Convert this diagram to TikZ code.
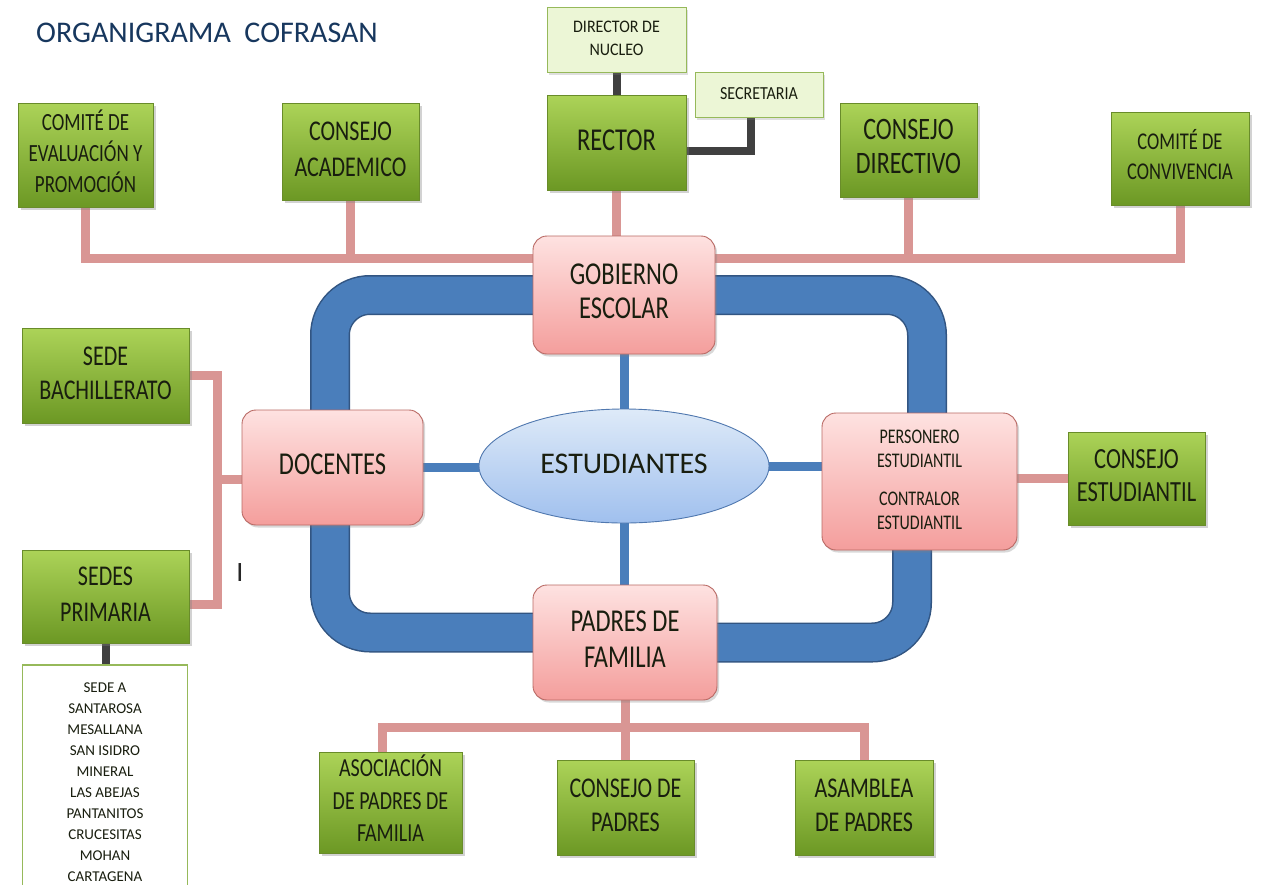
\documentclass[tikz,border=0pt]{standalone}
\usepackage{fontspec}
\setmainfont{Carlito}
\usepackage{graphicx}
\usetikzlibrary{shapes.geometric,shadows}
\definecolor{gtop}{RGB}{172,211,88}
\definecolor{gbot}{RGB}{108,152,36}
\definecolor{gdraw}{RGB}{105,140,42}
\definecolor{ptop}{RGB}{254,226,225}
\definecolor{pbot}{RGB}{244,158,156}
\definecolor{pdraw}{RGB}{185,105,100}
\definecolor{lfill}{RGB}{236,246,214}
\definecolor{ldraw}{RGB}{150,185,90}
\definecolor{bandc}{RGB}{74,126,187}
\definecolor{banddk}{RGB}{50,85,130}
\definecolor{pinkc}{RGB}{217,150,148}
\definecolor{darkc}{RGB}{64,64,64}
\definecolor{titlec}{RGB}{23,55,94}
\definecolor{etop}{RGB}{222,234,248}
\definecolor{ebot}{RGB}{160,192,238}
\definecolor{edraw}{RGB}{80,120,175}
\definecolor{txtc}{RGB}{25,30,15}
\newcommand{\bt}[5]{\raisebox{#1pt}{\scalebox{1}[#2]{\fontsize{#3pt}{#4pt}\selectfont\begin{tabular}{@{}c@{}}#5\end{tabular}}}}
\pgfdeclarelayer{bg}
\pgfsetlayers{bg,main}
\begin{document}
\begin{tikzpicture}[x=1pt,y=-1pt,
  gbox/.style={rectangle,draw=gdraw,line width=0.8pt,top color=gtop,bottom color=gbot,inner sep=0pt,text=txtc,
    drop shadow={shadow xshift=2.5pt,shadow yshift=-3pt,opacity=0.35}},
  pbox/.style={rectangle,rounded corners=14pt,draw=pdraw,line width=0.9pt,top color=ptop,bottom color=pbot,inner sep=0pt,text=txtc,
    drop shadow={shadow xshift=2pt,shadow yshift=-2.5pt,opacity=0.3}},
  lbox/.style={rectangle,draw=ldraw,line width=0.9pt,fill=lfill,inner sep=0pt,text=txtc,
    drop shadow={shadow xshift=2pt,shadow yshift=-2.5pt,opacity=0.25}},
  ebox/.style={ellipse,draw=edraw,line width=0.9pt,top color=etop,bottom color=ebot,inner sep=0pt,text=txtc},
  listbox/.style={rectangle,draw=ldraw,line width=1.5pt,fill=white,inner sep=0pt,text=txtc},
  pinkl/.style={draw=pinkc,line width=9pt},
  darkl/.style={draw=darkc,line width=8pt},
  bluel/.style={draw=bandc,line width=9pt},
  bandl/.style={draw=bandc,line width=37pt,rounded corners=40pt,preaction={draw=banddk,line width=40pt}}
]
\useasboundingbox (0,0) rectangle (1263,884);
\begin{pgfonlayer}{bg}
\fill[white] (0,0) rectangle (1263,884);
\end{pgfonlayer}

\node[text=titlec,inner sep=0pt] (title) at (207,33) {\fontsize{30pt}{36pt}\selectfont ORGANIGRAMA\ \ COFRASAN};

\node[lbox,minimum width=139pt,minimum height=65pt] (dir) at (616.5,39.5) {\bt{2}{1.1}{16}{21}{DIRECTOR DE\\NUCLEO}};
\node[lbox,minimum width=128pt,minimum height=45pt] (sec) at (759,94.5) {\bt{5}{1.15}{16}{20}{SECRETARIA}};

\node[gbox,minimum width=135pt,minimum height=104pt] (cea) at (85.5,155) {\bt{-2}{1.3}{19}{24}{COMITÉ DE\\EVALUACIÓN Y\\PROMOCIÓN}};
\node[gbox,minimum width=137pt,minimum height=97pt] (ca) at (350.5,151.5) {\bt{3}{1.3}{22}{27}{CONSEJO\\ACADEMICO}};
\node[gbox,minimum width=139pt,minimum height=95pt] (rector) at (616.5,142.5) {\bt{9}{1.3}{24.5}{29}{RECTOR}};
\node[gbox,minimum width=137pt,minimum height=94pt] (cd) at (908.5,150) {\bt{5}{1.3}{24}{26}{CONSEJO\\DIRECTIVO}};
\node[gbox,minimum width=138pt,minimum height=93pt] (cc) at (1180,158.5) {\bt{8}{1.3}{18.5}{23}{COMITÉ DE\\CONVIVENCIA}};

\node[gbox,minimum width=167pt,minimum height=95pt] (sb) at (105.5,375.5) {\bt{6}{1.3}{22}{26}{SEDE\\BACHILLERATO}};
\node[gbox,minimum width=167pt,minimum height=93pt] (sp) at (105.5,596.5) {\bt{6}{1.3}{22}{27}{SEDES\\PRIMARIA}};
\node[listbox,minimum width=165pt,minimum height=235pt] (lista) at (105,782.5) {\bt{0}{1}{15}{21}{SEDE A\\SANTAROSA\\MESALLANA\\SAN ISIDRO\\MINERAL\\LAS ABEJAS\\PANTANITOS\\CRUCESITAS\\MOHAN\\CARTAGENA}};

\node[pbox,minimum width=182pt,minimum height=118pt] (gob) at (624,295) {\bt{10}{1.3}{24.5}{26}{GOBIERNO\\ESCOLAR}};
\node[pbox,minimum width=181pt,minimum height=115pt] (doc) at (332.5,467.5) {\bt{12}{1.3}{24.5}{29}{DOCENTES}};
\node[ebox,minimum width=290pt,minimum height=114pt] (est) at (624,466) {\bt{8}{1}{30}{36}{ESTUDIANTES}};
\node[pbox,minimum width=195pt,minimum height=137pt] (per) at (919.5,481.5) {\bt{2}{1.3}{16}{18.5}{PERSONERO\\ESTUDIANTIL\\[11pt]CONTRALOR\\ESTUDIANTIL}};
\node[gbox,minimum width=137pt,minimum height=93pt] (cest) at (1136.5,478.5) {\bt{7}{1.3}{22.5}{25}{CONSEJO\\ESTUDIANTIL}};
\node[pbox,minimum width=184pt,minimum height=115pt] (pad) at (625,642.5) {\bt{8}{1.3}{24.5}{27}{PADRES DE\\FAMILIA}};

\node[gbox,minimum width=143pt,minimum height=101pt] (aso) at (390.5,802.5) {\bt{-2}{1.3}{20}{25}{ASOCIACIÓN\\DE PADRES DE\\FAMILIA}};
\node[gbox,minimum width=137pt,minimum height=95pt] (cp) at (625.5,807.5) {\bt{7}{1.3}{22}{26}{CONSEJO DE\\PADRES}};
\node[gbox,minimum width=138pt,minimum height=95pt] (asa) at (864,807.5) {\bt{7}{1.3}{22}{26}{ASAMBLEA\\DE PADRES}};

\node[text=black!85,inner sep=0pt] (ibar) at (240,573) {\fontsize{28pt}{30pt}\selectfont I};

\begin{pgfonlayer}{bg}
% blue loop
\coordinate (bl) at (330,0);
\coordinate (br) at (927,0);
\coordinate (br2) at (912,0);
\coordinate (padl) at ([yshift=10pt]pad.center);
\draw[bandl] (doc.center -| bl) |- (gob.center);
\draw[bandl] (gob.center) -| (per.center -| br);
\draw[bandl] (doc.center -| bl) |- (padl);
\draw[bandl] (pad.center) -| (per.center -| br2);
% thin blue
\draw[bluel] (gob.south) -- (gob.south |- est.north);
\draw[bluel] (est.south) -- (est.south |- pad.north);
\draw[bluel] (doc.east) -- (doc.east -| est.west);
\draw[bluel] (est.east) -- (est.east -| per.west);
% pink top
\coordinate (hy) at (0,258);
\draw[pinkl] (cea.south) -- (cea.south |- hy) -- (cc.south |- hy) -- (cc.south);
\draw[pinkl] (ca.south) -- (ca.south |- hy);
\draw[pinkl] (cd.south) -- (cd.south |- hy);
\draw[pinkl] (rector.south) -- (rector.south |- gob.north);
% pink left
\coordinate (lx) at (217,0);
\coordinate (spj) at ([yshift=-8pt]sp.east);
\coordinate (dj) at ([yshift=-12pt]doc.west);
\draw[pinkl] (sb.east) -| (spj -| lx) -- (spj);
\draw[pinkl] (dj) -- (dj -| lx);
% pink right
\draw[pinkl] (per.east |- cest.west) -- (cest.west);
% pink bottom
\coordinate (by) at (0,727);
\coordinate (asoj) at ([xshift=-8pt]aso.north);
\draw[pinkl] (pad.south) -- (pad.south |- cp.north);
\draw[pinkl] (asoj) -- (asoj |- by) -- (asa.north |- by) -- (asa.north);
% dark
\draw[darkl] (dir.south) -- (rector.north);
\coordinate (rj) at ([yshift=-8pt]rector.east);
\coordinate (sj) at ([xshift=-8pt]sec.south);
\draw[darkl] (rj) -| (sj);
\draw[darkl] (sp.south) -- (sp.south |- lista.north);
\end{pgfonlayer}
\end{tikzpicture}
\end{document}
